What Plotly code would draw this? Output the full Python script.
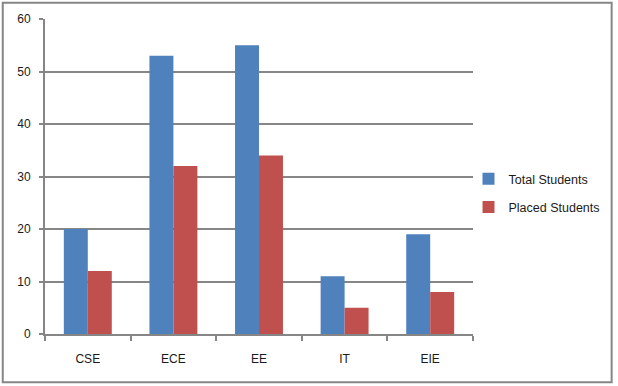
import plotly.graph_objects as go

categories = ["CSE", "ECE", "EE", "IT", "EIE"]
total_students = [20, 53, 55, 11, 19]
placed_students = [12, 32, 34, 5, 8]
y_ticks = [0, 10, 20, 30, 40, 50, 60]

BLUE = "#4F81BD"
RED = "#C0504D"
GRID = "#868686"
FONT = "Liberation Sans"

fig = go.Figure()
fig.add_trace(go.Bar(x=categories, y=total_students, name="Total Students",
                     marker=dict(color=BLUE, line=dict(width=0)), legendgroup="a"))
fig.add_trace(go.Bar(x=categories, y=placed_students, name="Placed Students",
                     marker=dict(color=RED, line=dict(width=0)), legendgroup="b"))

W, H = 618, 386
L, R, T, B = 45, 473.5, 19, 334
pw, ph = R - L, B - T

def px(x):
    return (x - L) / pw

def py(y):
    return (B - y) / ph

fig.update_layout(
    width=W, height=H, autosize=False,
    margin=dict(l=L, r=W - R, t=T, b=H - B, pad=0, autoexpand=False),
    paper_bgcolor="white", plot_bgcolor="white",
    barmode="group", bargap=0.44, bargroupgap=0,
    font=dict(family=FONT, size=11, color="#1a1a1a"),
    showlegend=True,
    legend=dict(x=px(469), y=py(193), xanchor="left", yanchor="middle",
                traceorder="grouped", tracegroupgap=9,
                font=dict(family=FONT, size=12.5, color="#1a1a1a"),
                itemwidth=30, bgcolor="rgba(0,0,0,0)"),
    xaxis=dict(type="category", showgrid=False, showline=True, linecolor=GRID,
               linewidth=2, ticks="outside", tickson="boundaries", ticklen=5,
               tickcolor=GRID, tickwidth=2, ticklabelstandoff=13,
               tickfont=dict(family=FONT, size=12, color="#1a1a1a")),
    yaxis=dict(range=[0, 60], tickvals=y_ticks, showgrid=True, gridcolor=GRID,
               gridwidth=2, showline=True, linecolor=GRID, linewidth=2,
               ticks="outside", ticklen=4, tickcolor=GRID, tickwidth=2,
               ticklabelstandoff=6, zeroline=False,
               tickfont=dict(family=FONT, size=12, color="#1a1a1a")),
    shapes=[dict(type="rect", xref="paper", yref="paper",
                 x0=px(2.7), x1=px(612.3), y0=py(382.3), y1=py(2.7),
                 line=dict(color=GRID, width=2), layer="above")],
)

fig.write_html("out.html", config={"displayModeBar": False},
               post_script="document.body.style.margin='0';document.body.style.padding='0';")
